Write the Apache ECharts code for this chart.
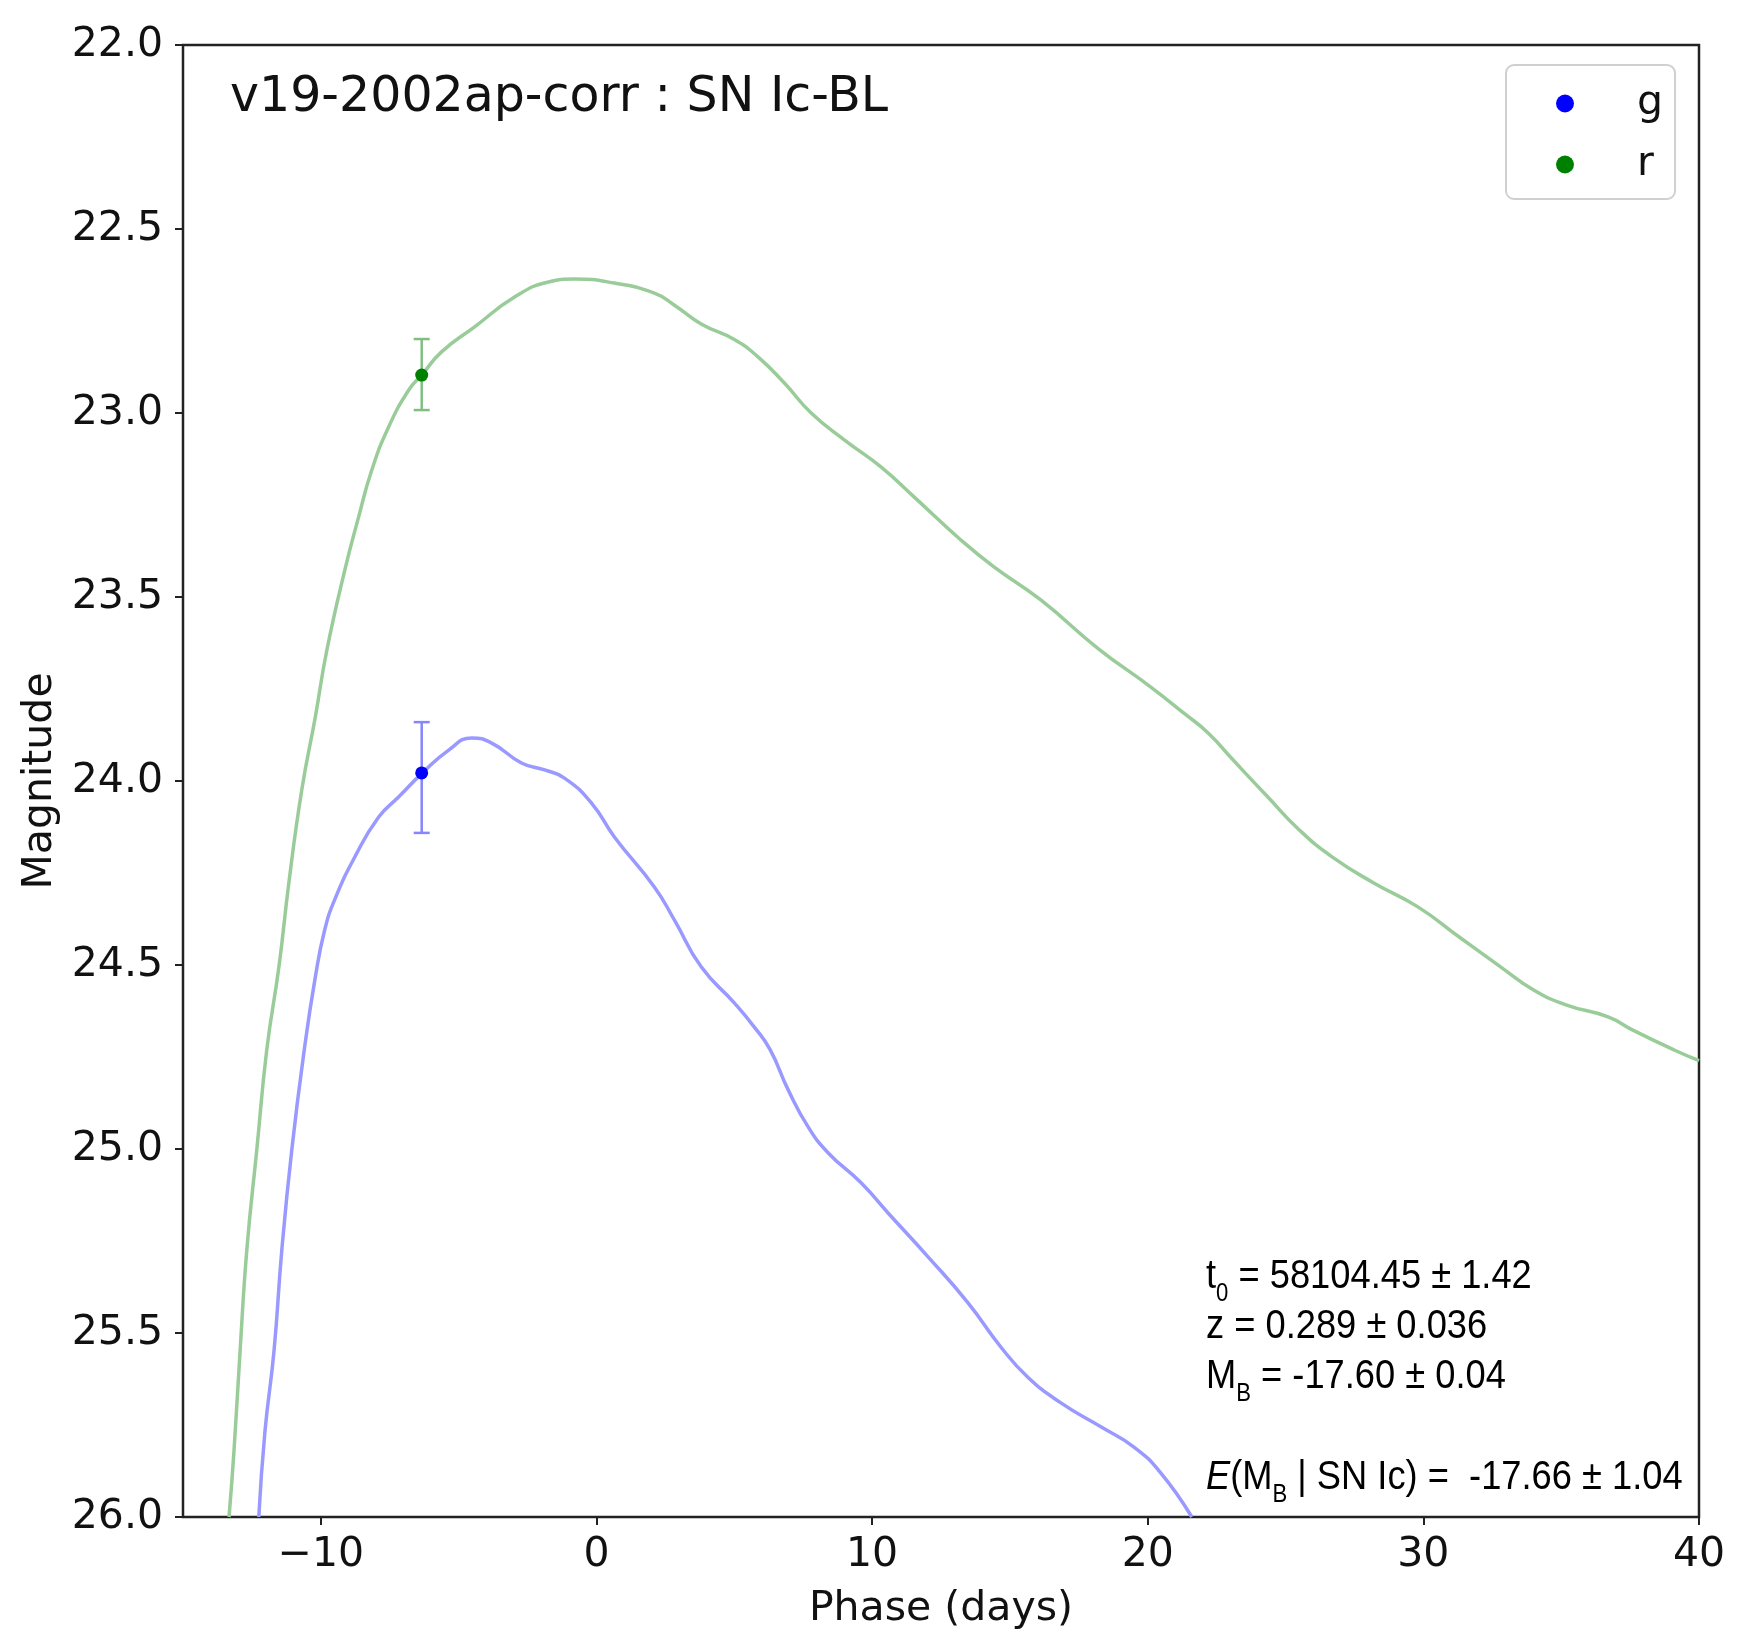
<!DOCTYPE html>
<html>
<head>
<meta charset="utf-8">
<script src="https://cdn.jsdelivr.net/npm/echarts@6/dist/echarts.min.js"></script>
<style>
html,body{margin:0;padding:0;background:#fff;}
#chart{width:1742px;height:1647px;}
</style>
</head>
<body>
<div id="chart"></div>
<script>
// ---- data ----
const titleText = 'v19-2002ap-corr : SN Ic-BL';
const xTicks = [-10, 0, 10, 20, 30, 40];

// r-band model curve (phase, magnitude)
const rPhase = [-13.33,-13.15,-12.93,-12.68,-12.32,-11.96,-11.52,-11.16,-10.69,-10.2,-9.78,-9.13,-8.63,-8.15,-7.54,-6.81,-6.34,-5.62,-4.42,-2.97,-1.74,-0.8,0.65,2.1,2.83,3.8,5.0,5.87,6.81,7.79,8.99,10.33,11.52,13.22,14.42,16.12,18.2,20.1,21.3,22.2,23.1,24.35,25.5,26.7,28.2,29.8,31.3,32.8,34.0,35.2,36.7,37.6,39.1,40.0];
const rMag   = [26.0,25.82,25.55,25.27,25.0,24.73,24.505,24.277,24.024,23.826,23.644,23.427,23.283,23.155,23.038,22.9375,22.897,22.834,22.766,22.685,22.644,22.636,22.647,22.674,22.707,22.758,22.80,22.848,22.918,23.0,23.073,23.147,23.228,23.345,23.418,23.508,23.64,23.744,23.815,23.87,23.943,24.043,24.133,24.207,24.277,24.342,24.424,24.505,24.568,24.609,24.641,24.677,24.731,24.76];

// g-band model curve (phase, magnitude)
const gPhase = [-12.25,-12.03,-11.7,-11.41,-11.05,-10.6,-10.2,-9.86,-9.5,-8.77,-7.9,-7.17,-6.34,-5.36,-4.53,-3.8,-2.72,-1.88,-1.16,-0.18,0.65,2.1,2.83,3.8,5.0,5.72,6.3,6.96,7.68,8.4,9.6,10.58,12.03,13.48,14.67,15.65,16.85,18.3,19.5,20.47,21.6];
const gMag   = [26.0,25.77,25.55,25.27,25.0,24.73,24.533,24.405,24.323,24.207,24.098,24.043,23.98,23.916,23.883,23.897,23.951,23.97,23.992,24.06,24.152,24.288,24.378,24.505,24.603,24.668,24.73,24.84,24.94,25.01,25.092,25.174,25.293,25.418,25.538,25.62,25.69,25.755,25.81,25.88,26.0];

// observations: phase, magnitude, error-bar low, error-bar high
const gObsPhase = [-6.34], gObsMag = [23.978], gObsLo = [23.84], gObsHi = [24.141];
const rObsPhase = [-6.34], rObsMag = [22.897], rObsLo = [22.799], rObsHi = [22.992];

// annotation text
const annT0 = ' = 58104.45 \u00b1 1.42';
const annZ  = 'z = 0.289 \u00b1 0.036';
const annMB = ' = -17.60 \u00b1 0.04';
const annE  = ' | SN Ic) =  -17.66 \u00b1 1.04';

// ---- build ----
const zip = (a, b) => a.map((v, i) => [v, b[i]]);
const zip3 = (a, b, c) => a.map((v, i) => [v, b[i], c[i]]);

const chart = echarts.init(document.getElementById('chart'), null, {renderer: 'canvas'});

function errRender(color) {
  return function (params, api) {
    const x = api.value(0), lo = api.value(1), hi = api.value(2);
    const a = api.coord([x, lo]), b = api.coord([x, hi]);
    const w = 8;
    const st = {stroke: color, lineWidth: 2.5};
    return {type: 'group', children: [
      {type: 'line', shape: {x1: a[0], y1: a[1], x2: b[0], y2: b[1]}, style: st},
      {type: 'line', shape: {x1: a[0]-w, y1: a[1], x2: a[0]+w, y2: a[1]}, style: st},
      {type: 'line', shape: {x1: b[0]-w, y1: b[1], x2: b[0]+w, y2: b[1]}, style: st}
    ]};
  };
}

const annFont = 'Liberation Sans';
const annSize = 41;
const subSize = 25;
const squeeze = 0.885;
const mctx = document.createElement('canvas').getContext('2d');
function tw(s, size, italic) { mctx.font = (italic ? 'italic ' : '') + size + 'px "' + annFont + '"'; return mctx.measureText(s).width; }
const desc = 9;   // bottom-of-box to baseline offset
function seg(x, s, size, italic, drop) {
  return {type: 'text', x: x, y: desc + (drop || 0),
    style: {text: s, fontFamily: annFont, fontSize: size, fontStyle: italic ? 'italic' : 'normal', fill: '#000', verticalAlign: 'bottom', align: 'left'}};
}
function line(base, parts) {
  let x = 0; const ch = [];
  parts.forEach(p => { ch.push(seg(x, p[0], p[1], p[2], p[3])); x += tw(p[0], p[1], p[2]); });
  return {type: 'group', x: 1206, y: base, scaleX: squeeze, z: 100, children: ch};
}
const ann = [
  line(1288, [['t', annSize], ['0', subSize, false, 10], [annT0, annSize]]),
  line(1338, [[annZ, annSize]]),
  line(1388, [['M', annSize], ['B', subSize, false, 10], [annMB, annSize]]),
  line(1489, [['E', annSize, true], ['(M', annSize], ['B', subSize, false, 10], [annE, annSize]])
];

const axisFont = 'DejaVu Sans';
const option = {
  backgroundColor: '#ffffff',
  animation: false,
  title: {
    text: titleText, left: 230, top: 74, padding: 0,
    textStyle: {fontFamily: axisFont, fontSize: 49, fontWeight: 'normal', color: '#111'}
  },
  legend: {
    data: ['g', 'r'], orient: 'vertical', left: 1506, top: 65,
    padding: [18, 12, 14, 50], itemGap: 20, itemWidth: 18, itemHeight: 18,
    icon: 'circle',
    borderColor: '#d0d0d0', borderWidth: 2, borderRadius: 8, backgroundColor: '#fff',
    textStyle: {fontFamily: axisFont, fontSize: 41, color: '#111', lineHeight: 40, width: 26, padding: [0, 0, 0, 58]}
  },
  grid: {left: 183, right: 43, top: 45, bottom: 130, show: true, borderColor: '#222', borderWidth: 2.5, backgroundColor: 'transparent'},
  xAxis: {
    type: 'value', min: -15, max: 40,
    name: 'Phase (days)', nameLocation: 'middle', nameGap: 72,
    nameTextStyle: {fontFamily: axisFont, fontSize: 41, color: '#111'},
    axisLine: {show: false, onZero: false},
    axisTick: {show: true, length: 8, customValues: xTicks, lineStyle: {color: '#222', width: 2}},
    axisLabel: {customValues: xTicks, margin: 18, fontFamily: axisFont, fontSize: 41, color: '#111',
      formatter: v => (v < 0 ? '\u2212' + Math.abs(v) : String(v))},
    splitLine: {show: false}
  },
  yAxis: {
    type: 'value', min: 22, max: 26, interval: 0.5, inverse: true,
    name: 'Magnitude', nameLocation: 'middle', nameGap: 118, nameRotate: 90,
    nameTextStyle: {fontFamily: axisFont, fontSize: 41, color: '#111'},
    axisLine: {show: false, onZero: false},
    axisTick: {show: true, length: 8, lineStyle: {color: '#222', width: 2}},
    axisLabel: {margin: 20, fontFamily: axisFont, fontSize: 41, color: '#111', formatter: v => v.toFixed(1)},
    splitLine: {show: false}
  },
  graphic: ann,
  series: [
    {name: 'r model', type: 'line', data: zip(rPhase, rMag), showSymbol: false, smooth: 0.5,
      lineStyle: {color: '#99cc99', width: 3.5}, itemStyle: {color: '#99cc99'}, clip: true, z: 2},
    {name: 'g model', type: 'line', data: zip(gPhase, gMag), showSymbol: false, smooth: 0.5,
      lineStyle: {color: '#9999ff', width: 3.5}, itemStyle: {color: '#9999ff'}, clip: true, z: 2},
    {name: 'g err', type: 'custom', data: zip3(gObsPhase, gObsLo, gObsHi), renderItem: errRender('#8585ff'),
      encode: {x: 0, y: [1, 2]}, z: 3},
    {name: 'r err', type: 'custom', data: zip3(rObsPhase, rObsLo, rObsHi), renderItem: errRender('#80bf80'),
      encode: {x: 0, y: [1, 2]}, z: 3},
    {name: 'g', type: 'scatter', data: zip(gObsPhase, gObsMag), symbol: 'circle', symbolSize: 13,
      itemStyle: {color: '#0000ff', opacity: 1}, z: 4},
    {name: 'r', type: 'scatter', data: zip(rObsPhase, rObsMag), symbol: 'circle', symbolSize: 13,
      itemStyle: {color: '#008000', opacity: 1}, z: 4}
  ]
};
chart.setOption(option);
</script>
</body>
</html>
